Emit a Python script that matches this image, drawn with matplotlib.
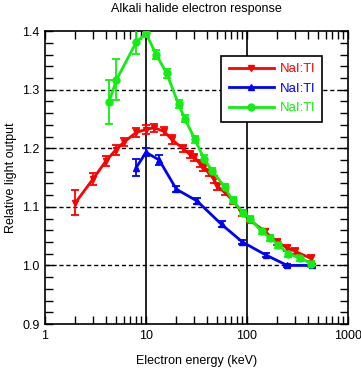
import numpy as np
import matplotlib
matplotlib.use("Agg")
import matplotlib.pyplot as plt
from matplotlib.lines import Line2D
from matplotlib.ticker import LogLocator, MultipleLocator, FixedLocator, FixedFormatter, NullFormatter

plt.rcParams["font.family"] = ["Liberation Sans", "DejaVu Sans"]

# NaI:Tl series (energy in keV, relative light output, error)
red_e = [2, 3, 4, 5, 6, 8, 10, 12, 15, 18, 23, 27, 30, 34, 37, 42, 47, 51, 60, 73, 90, 107, 150, 200, 250, 300, 430]
red_v = [1.107, 1.148, 1.178, 1.197, 1.21, 1.227, 1.232, 1.235, 1.229, 1.215, 1.2, 1.19, 1.185, 1.174, 1.167,
         1.158, 1.147, 1.135, 1.125, 1.11, 1.09, 1.077, 1.058, 1.04, 1.03, 1.024, 1.012]
red_err = [0.021, 0.01, 0.008, 0.008, 0.007, 0.008, 0.007, 0.007, 0.007, 0.007, 0.006, 0.006, 0.006, 0.006, 0.006,
           0.006, 0.006, 0.006, 0.005, 0.005, 0.005, 0.005, 0.005, 0.005, 0.005, 0.005, 0.005]

blue_e = [8, 10, 13.5, 20, 32, 56, 90, 153, 250, 440]
blue_v = [1.167, 1.193, 1.18, 1.13, 1.11, 1.07, 1.04, 1.018, 1.0, 1.0]
blue_err = [0.015, 0.007, 0.008, 0.005, 0.005, 0.005, 0.004, 0.004, 0.003, 0.003]

green_e = [4.3, 5.1, 8, 10, 12.6, 16, 21, 24.3, 30.5, 37.5, 45, 60, 72, 92, 107, 140, 170, 203, 257, 332, 435]
green_v = [1.279, 1.317, 1.381, 1.396, 1.36, 1.328, 1.275, 1.25, 1.215, 1.182, 1.162, 1.134, 1.111, 1.09,
           1.08, 1.058, 1.047, 1.035, 1.02, 1.013, 1.003]
green_err = [0.038, 0.035, 0.02, 0.006, 0.008, 0.008, 0.007, 0.006, 0.006, 0.006, 0.005, 0.005, 0.005, 0.005,
             0.005, 0.005, 0.005, 0.005, 0.005, 0.005, 0.005]

labels = ["NaI:Tl", "NaI:Tl", "NaI:Tl"]
colors = ["#ff0000", "#0000ff", "#11ee11"]
markers = ["v", "^", "o"]

fig = plt.figure(figsize=(3.61, 3.70), dpi=100)
ax = fig.add_axes([0.1247, 0.1243, 0.8393, 0.7917])

# grid like the original: dashed horizontals, solid verticals at decades
for yv in [1.0, 1.1, 1.2, 1.3]:
    ax.axhline(yv, color="black", linestyle=(0, (3, 2)), linewidth=1.0, zorder=1)
for xv in [10, 100]:
    ax.axvline(xv, color="black", linewidth=1.2, zorder=1)

series = [(red_e, red_v, red_err), (blue_e, blue_v, blue_err), (green_e, green_v, green_err)]
for (e, v, err), c, m in zip(series, colors, markers):
    ax.errorbar(e, v, yerr=err, color=c, marker=m, markersize=5, linewidth=2, elinewidth=1.3,
                capsize=3, capthick=1.3, zorder=3)

ax.set_xscale("log")
ax.set_xlim(1, 1000)
ax.set_ylim(0.9, 1.4)
ax.xaxis.set_major_locator(FixedLocator([1, 10, 100, 1000]))
ax.xaxis.set_major_formatter(FixedFormatter(["1", "10", "100", "1000"]))
ax.xaxis.set_minor_locator(LogLocator(base=10, subs=np.arange(2, 10)))
ax.xaxis.set_minor_formatter(NullFormatter())
ax.yaxis.set_major_locator(MultipleLocator(0.1))
ax.yaxis.set_minor_locator(MultipleLocator(0.02))
ax.tick_params(which="both", direction="in", top=True, right=True, labelsize=9, width=1)
ax.tick_params(which="major", length=6, pad=4)
ax.tick_params(which="minor", length=6)
for s in ax.spines.values():
    s.set_linewidth(1.2)

ax.set_xlabel("Electron energy (keV)", fontsize=9, labelpad=10)
ax.set_ylabel("Relative light output", fontsize=9)
ax.set_title("Alkali halide electron response", fontsize=9, pad=14)

handles = [Line2D([], [], color=c, marker=m, markersize=5, linewidth=2) for c, m in zip(colors, markers)]
leg = ax.legend(handles, labels, loc="upper right", bbox_to_anchor=(0.914, 0.915), borderaxespad=0,
                fontsize=9.5, frameon=True, fancybox=False, edgecolor="black", framealpha=1,
                handlelength=3.4, handletextpad=0.45, borderpad=0.55, labelspacing=0.55)
leg.get_frame().set_linewidth(1.2)
for t, c in zip(leg.get_texts(), colors):
    t.set_color(c)
leg.set_zorder(5)

fig.savefig("out.png", dpi=100)
